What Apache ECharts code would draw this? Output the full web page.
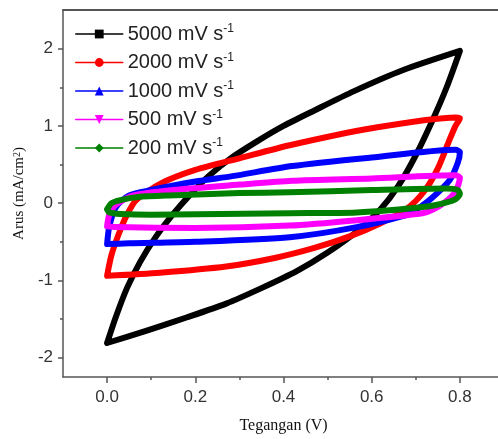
<!DOCTYPE html>
<html>
<head>
<meta charset="utf-8">
<script src="https://cdn.jsdelivr.net/npm/echarts@6/dist/echarts.min.js"></script>
<style>
  html, body { margin: 0; padding: 0; background: #fff; }
  #chart { width: 498px; height: 439px; }
</style>
</head>
<body>
<div id="chart"></div>
<script>
// scan rates shown in the legend
const scanRates = ["5000 mV s-1", "2000 mV s-1", "1000 mV s-1", "500 mV s-1", "200 mV s-1"];

// each loop: anodic sweep 0 -> 0.8 V, then cathodic sweep back to 0 V
const volt5000 = [0, 0.02, 0.045, 0.075, 0.11, 0.15, 0.19, 0.23, 0.28, 0.34, 0.4, 0.47, 0.56, 0.67, 0.8,
  0.77, 0.74, 0.7, 0.66, 0.62, 0.57, 0.5, 0.43, 0.35, 0.27, 0.18, 0.09, 0];
const curr5000 = [-1.81, -1.47, -1.1, -0.76, -0.44, -0.14, 0.12, 0.35, 0.58, 0.8, 1.0, 1.2, 1.45, 1.72, 1.97,
  1.5, 1.1, 0.62, 0.22, -0.08, -0.35, -0.64, -0.88, -1.1, -1.3, -1.48, -1.65, -1.81];

const volt2000 = [0, 0.01, 0.027, 0.045, 0.066, 0.12, 0.2, 0.3, 0.414, 0.6, 0.79, 0.8,
  0.79, 0.775, 0.75, 0.72, 0.68, 0.62, 0.55, 0.47, 0.38, 0.27, 0.12, 0];
const curr2000 = [-0.94, -0.67, -0.39, -0.15, 0.04, 0.25, 0.43, 0.58, 0.75, 0.97, 1.11, 1.1,
  1.0, 0.8, 0.45, 0.16, -0.07, -0.26, -0.43, -0.58, -0.71, -0.82, -0.9, -0.94];

const volt1000 = [0, 0.005, 0.02, 0.05, 0.1, 0.2, 0.284, 0.42, 0.6, 0.79, 0.8,
  0.795, 0.777, 0.739, 0.7, 0.68, 0.566, 0.414, 0.2, 0.05, 0];
const curr1000 = [-0.53, -0.3, -0.05, 0.1, 0.17, 0.28, 0.35, 0.48, 0.59, 0.69, 0.66,
  0.52, 0.3, 0.08, -0.09, -0.15, -0.31, -0.44, -0.5, -0.52, -0.53];

const volt500 = [0, 0.005, 0.02, 0.06, 0.15, 0.3, 0.42, 0.6, 0.79, 0.8,
  0.79, 0.77, 0.74, 0.715, 0.566, 0.414, 0.2, 0.02, 0];
const curr500 = [-0.3, -0.15, -0.02, 0.1, 0.17, 0.24, 0.29, 0.32, 0.36, 0.33,
  0.15, 0.03, -0.08, -0.13, -0.22, -0.29, -0.32, -0.31, -0.3];

const volt200 = [0, 0.01, 0.03, 0.07, 0.14, 0.3, 0.414, 0.6, 0.77, 0.795, 0.8,
  0.79, 0.77, 0.73, 0.566, 0.414, 0.1, 0.03, 0.005, 0];
const curr200 = [-0.08, 0.0, 0.04, 0.08, 0.1, 0.13, 0.14, 0.17, 0.19, 0.17, 0.12,
  0.05, 0.01, -0.04, -0.12, -0.13, -0.15, -0.14, -0.12, -0.08];

// tick labels
const xTicks = [0, 0.2, 0.4, 0.6, 0.8];
const xMinorTicks = [0.1, 0.3, 0.5, 0.7];
const yTicks = [-2, -1, 0, 1, 2];
const yMinorTicks = [-1.5, -0.5, 0.5, 1.5];

const loops = [
  { volt: volt5000, curr: curr5000, color: "#000000", symbol: "rect" },
  { volt: volt2000, curr: curr2000, color: "#ff0000", symbol: "circle" },
  { volt: volt1000, curr: curr1000, color: "#0000ff", symbol: "triangle" },
  { volt: volt500, curr: curr500, color: "#ff00ff", symbol: "path://M0,0 L10,0 L5,9 Z" },
  { volt: volt200, curr: curr200, color: "#008000", symbol: "diamond" },
];

const chart = echarts.init(document.getElementById("chart"));

const labelFont = "'Liberation Sans', Arial, sans-serif";
const nameFont = "'Liberation Serif', 'Times New Roman', serif";
const axisColor = "#555";

const option = {
  animation: false,
  backgroundColor: "#fff",
  grid: {
    left: 63,
    top: 10,
    right: -6,
    bottom: 62,
    containLabel: false,
    outerBoundsMode: "none",
  },
  legend: {
    orient: "vertical",
    left: 75,
    top: 23,
    padding: 0,
    itemWidth: 47,
    itemHeight: 11,
    itemGap: 7.5,
    lineStyle: { width: 1.5 },
    formatter: (name) => `{n|${name.slice(0, -2)}}{s|-1}`,
    textStyle: {
      rich: {
        n: { fontFamily: labelFont, fontSize: 20, color: "#222", lineHeight: 22 },
        s: { fontFamily: labelFont, fontSize: 12, color: "#222", lineHeight: 22, verticalAlign: "top" },
      },
    },
    data: scanRates,
  },
  xAxis: [
    {
      type: "value",
      min: -0.1,
      max: 0.9,
      name: "Tegangan (V)",
      nameLocation: "middle",
      nameGap: 41,
      nameTextStyle: { fontFamily: nameFont, fontSize: 16, color: "#111" },
      axisLine: { show: true, onZero: false, lineStyle: { color: axisColor, width: 1.5 } },
      axisTick: { show: true, inside: false, length: 6, customValues: xTicks, lineStyle: { color: axisColor, width: 1.5 } },
      axisLabel: {
        customValues: xTicks,
        formatter: (v) => v.toFixed(1),
        fontFamily: labelFont,
        fontSize: 17,
        color: "#333",
        margin: 12,
      },
      splitLine: { show: false },
    },
    {
      // minor ticks only
      type: "value",
      min: -0.1,
      max: 0.9,
      position: "bottom",
      axisLine: { show: false, onZero: false },
      axisTick: { show: true, inside: false, length: 3, customValues: xMinorTicks, lineStyle: { color: axisColor, width: 1.5 } },
      axisLabel: { show: false },
      splitLine: { show: false },
    },
    {
      // top frame line
      type: "value",
      min: -0.1,
      max: 0.9,
      position: "top",
      axisLine: { show: true, onZero: false, lineStyle: { color: axisColor, width: 2 } },
      axisTick: { show: false },
      axisLabel: { show: false },
      splitLine: { show: false },
    },
  ],
  yAxis: [
    {
      type: "value",
      min: -2.25,
      max: 2.5,
      name: "Arus (mA/cm{s|2})",
      nameLocation: "middle",
      nameRotate: 90,
      nameGap: 36,
      nameTextStyle: {
        fontFamily: nameFont,
        fontSize: 15,
        color: "#111",
        rich: { s: { fontFamily: nameFont, fontSize: 10, color: "#111", verticalAlign: "top" } },
      },
      axisLine: { show: true, onZero: false, lineStyle: { color: axisColor, width: 1.5 } },
      axisTick: { show: true, inside: false, length: 5, customValues: yTicks, lineStyle: { color: axisColor, width: 1.5 } },
      axisLabel: {
        customValues: yTicks,
        formatter: (v) => String(v),
        fontFamily: labelFont,
        fontSize: 17,
        color: "#333",
        margin: 10,
      },
      splitLine: { show: false },
    },
    {
      // minor ticks only
      type: "value",
      min: -2.25,
      max: 2.5,
      position: "left",
      axisLine: { show: false, onZero: false },
      axisTick: { show: true, inside: false, length: 3, customValues: yMinorTicks, lineStyle: { color: axisColor, width: 1.5 } },
      axisLabel: { show: false },
      splitLine: { show: false },
    },
  ],
  series: loops.map((loop, i) => ({
    name: scanRates[i],
    type: "line",
    xAxisIndex: 0,
    yAxisIndex: 0,
    data: loop.volt.map((v, k) => [v, loop.curr[k]]),
    smooth: 0.25,
    symbol: loop.symbol,
    showSymbol: false,
    color: loop.color,
    lineStyle: { color: loop.color, width: 6, cap: "round", join: "round" },
    itemStyle: { color: loop.color },
    z: 2 + i,
  })),
};

chart.setOption(option);
window.addEventListener("resize", () => chart.resize());
</script>
</body>
</html>
